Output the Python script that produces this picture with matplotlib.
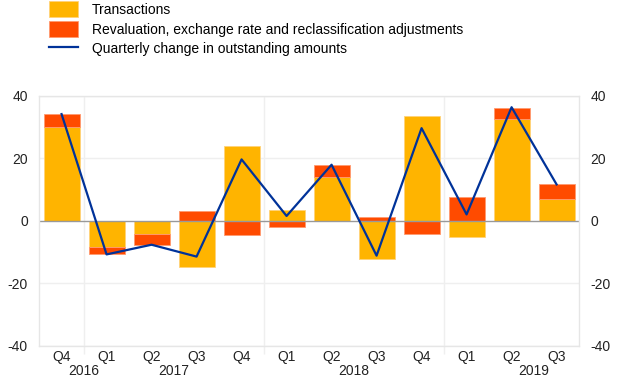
import numpy as np
import matplotlib.pyplot as plt
import matplotlib.transforms as mtransforms

quarters = ['Q4', 'Q1', 'Q2', 'Q3', 'Q4', 'Q1', 'Q2', 'Q3', 'Q4', 'Q1', 'Q2', 'Q3']
years = ['2016', '2017', '2018', '2019']
year_pos = [0.5, 2.5, 6.5, 10.5]
year_breaks = [0.5, 4.5, 8.5]

transactions = [30.0, -8.2, -4.2, -14.7, 23.9, 3.5, 14.1, -12.3, 33.7, -5.2, 32.5, 6.9]
revaluation = [4.2, -2.5, -3.4, 3.3, -4.4, -2.0, 3.8, 1.3, -4.3, 7.7, 3.7, 4.8]
quarterly_change = [34.2, -10.7, -7.6, -11.4, 19.7, 1.6, 18.0, -11.1, 29.7, 2.1, 36.4, 11.7]

c_trans = '#ffb400'
c_reval = '#ff4b00'
c_line = '#003299'

plt.rcParams['font.family'] = ['Liberation Sans', 'DejaVu Sans']
plt.rcParams['font.size'] = 10

fig = plt.figure(figsize=(6.2, 3.87), dpi=100)
ax = fig.add_axes([0.063, 0.106, 0.871, 0.646])

x = np.arange(len(quarters))
trans = np.array(transactions)
reval = np.array(revaluation)

# revaluation stacks on top of transactions if same sign, otherwise starts from zero
reval_bottom = np.where(np.sign(reval) == np.sign(trans), trans, 0)

b1 = ax.bar(x, trans, width=0.8, color=c_trans, edgecolor='#ffd27a', linewidth=0.6, zorder=2)
b2 = ax.bar(x, reval, width=0.8, bottom=reval_bottom, color=c_reval, edgecolor='#ff9a70',
            linewidth=0.6, zorder=2)
ln, = ax.plot(x, quarterly_change, color=c_line, linewidth=1.6, zorder=3)

ax.set_xlim(-0.5, 11.5)
ax.set_ylim(-40, 40)
ax.set_yticks([-40, -20, 0, 20, 40])
ax.set_yticklabels(['-40', '-20', '0', '20', '40'])
ax.axhline(0, color='#999999', linewidth=1.0, zorder=2.5)
for yv in [-40, -20, 20, 40]:
    ax.axhline(yv, color='#efefef', linewidth=1.0, zorder=0)

ax.set_xticks(x)
ax.set_xticklabels(quarters)
ax.set_xticks(year_breaks, minor=True)
ax.tick_params(axis='x', which='major', length=0, pad=3, colors='#222222')
ax.tick_params(axis='x', which='minor', length=6, width=1.0, color='#efefef')
ax.tick_params(axis='y', length=0, pad=8, colors='#222222')
for xb in year_breaks:
    ax.axvline(xb, color='#efefef', linewidth=1.0, zorder=0)

for s in ax.spines.values():
    s.set_color('#e6e6e6')
    s.set_linewidth(1.0)

trans_blend = mtransforms.blended_transform_factory(ax.transData, ax.transAxes)
for yr, pos in zip(years, year_pos):
    ax.text(pos, -0.1, yr, transform=trans_blend, ha='center', va='center',
            color='#222222', fontsize=10)

ax2 = ax.twinx()
ax2.set_ylim(-40, 40)
ax2.set_yticks([-40, -20, 0, 20, 40])
ax2.set_yticklabels(['-40', '-20', '0', '20', '40'])
ax2.tick_params(axis='y', length=0, pad=8, colors='#222222')
for s in ax2.spines.values():
    s.set_visible(False)

fig.legend([b1, b2, ln],
           ['Transactions',
            'Revaluation, exchange rate and reclassification adjustments',
            'Quarterly change in outstanding amounts'],
           loc='upper left', bbox_to_anchor=(0.076, 1.0),
           frameon=False, fontsize=10, handlelength=2.1, handleheight=1.4,
           handletextpad=1.0, labelspacing=0.25, borderaxespad=0.0, borderpad=0.1)

fig.savefig('out.png', dpi=100, facecolor='white')
